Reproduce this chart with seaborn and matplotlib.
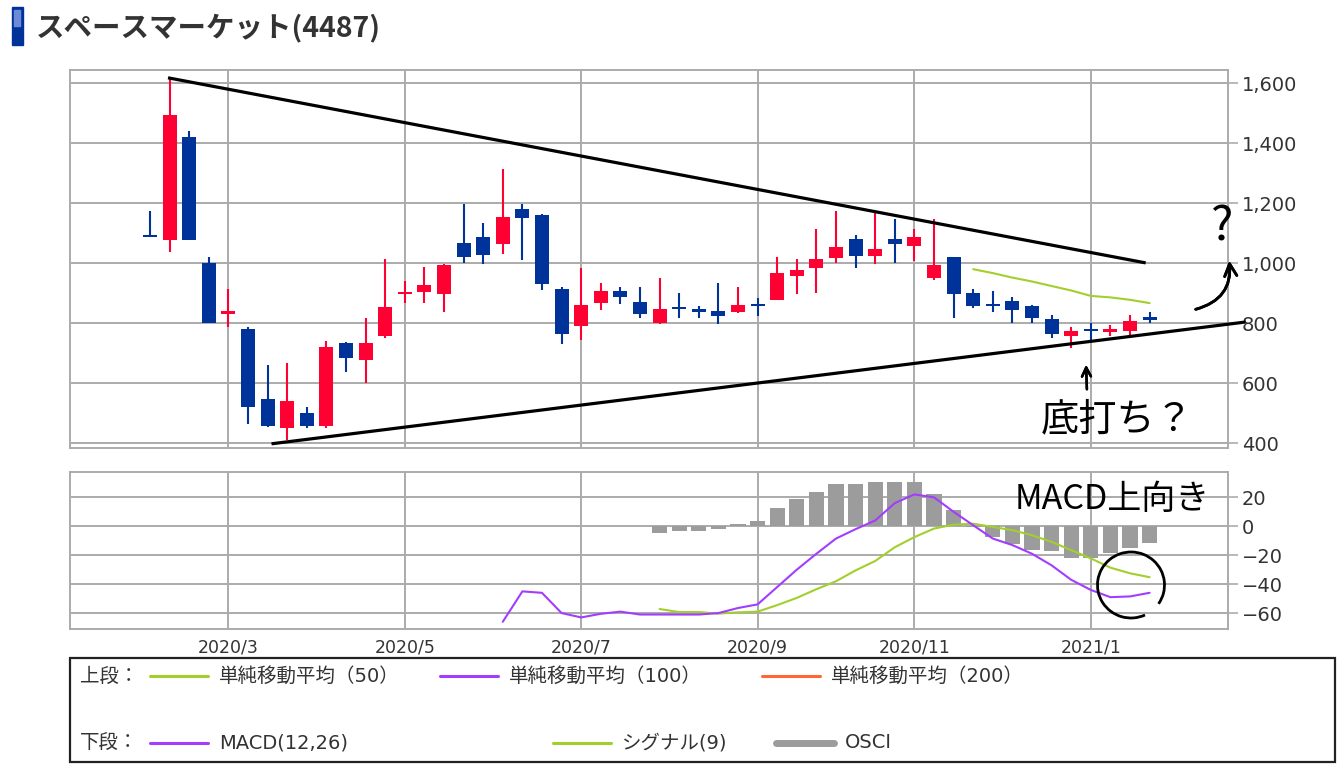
import numpy as np
import pandas as pd
import matplotlib
matplotlib.use("Agg")
import matplotlib.pyplot as plt
import seaborn as sns
from matplotlib.patches import Rectangle, Arc
from matplotlib.lines import Line2D
from matplotlib.ticker import FuncFormatter

# ---- weekly price data (スペースマーケット 4487) ----
week_start = "2020-02-03"
opens = [1092, 1078, 1420, 1000, 832, 781, 547, 450, 502, 456,
         733, 676, 756, 897, 903, 897, 1067, 1087, 1063, 1180,
         1161, 914, 791, 869, 908, 872, 800, 854, 849, 841,
         836, 862, 878, 958, 983, 1017, 1080, 1024, 1080, 1058,
         950, 1020, 900, 862, 874, 859, 813, 758, 782, 770,
         775, 820]
highs = [1175, 1620, 1442, 1022, 913, 786, 661, 667, 522, 741,
         739, 817, 1014, 941, 987, 998, 1197, 1133, 1313, 1197,
         1163, 922, 983, 933, 922, 922, 950, 902, 856, 933,
         922, 883, 1020, 1013, 1113, 1174, 1094, 1167, 1147, 1113,
         1147, 1022, 913, 906, 887, 861, 828, 789, 800, 794,
         828, 839]
lows = [1086, 1036, 1076, 800, 789, 464, 454, 411, 450, 450,
        636, 602, 750, 867, 868, 836, 1002, 997, 1030, 1011,
        911, 730, 744, 844, 863, 817, 798, 817, 817, 797,
        834, 824, 876, 897, 902, 1002, 983, 997, 1002, 1006,
        944, 817, 850, 837, 802, 802, 750, 717, 744, 758,
        761, 802]
closes = [1088, 1494, 1078, 802, 840, 522, 456, 541, 456, 722,
          683, 733, 853, 903, 926, 994, 1022, 1029, 1153, 1150,
          930, 763, 861, 908, 886, 830, 847, 846, 838, 824,
          861, 856, 967, 976, 1013, 1053, 1024, 1047, 1065, 1087,
          994, 897, 856, 856, 844, 817, 763, 775, 775, 781,
          806, 810]

# simple moving average (50) — visible part only
sma50_start = 42
sma50 = [980, 967, 952, 939, 924, 909, 891, 886, 878, 867]

# MACD(12,26), signal(9) and oscillator
macd_start = 18
macd = [-66, -45, -46, -60, -63, -60.5, -59, -61, -61, -61,
        -61, -60, -56.5, -54, -42, -30, -19, -8.5, -2, 4,
        16, 22, 20, 10, 0.7, -8.5, -13, -19, -27, -37,
        -44, -49, -48.5, -46]
signal_start = 26
signal = [-57.2, -59.3, -59.3, -60.4, -59.5, -59, -54.5, -49.5, -43.5, -38,
          -30.5, -24, -14.5, -7.5, -1.6, 1.1, 1.8, -0.5, -2.7, -6.2,
          -10.8, -16.5, -22.2, -28.6, -32.5, -35.2]
osci_start = 26
osci = [-4.6, -3.2, -3.2, -1.8, 1.8, 3.4, 12.8, 19, 24, 29.3,
        29.3, 30.9, 30.9, 30.9, 22.4, 11.4, -0.8, -7.3, -12.4, -16.5,
        -17.2, -22.2, -22.2, -18.8, -15.3, -11.4]

price_ticks = [400, 600, 800, 1000, 1200, 1400, 1600]
macd_ticks = [-60, -40, -20, 0, 20]

# hand-drawn trend lines (index, price)
upper_trend = ([0.92, 50.8], [1618, 1001])
lower_trend = ([6.2, 55.9], [398, 804])

# ---- styling ----
sns.set_theme(style="white")
plt.rcParams["font.family"] = ["DejaVu Sans", "Noto Sans CJK JP"]
JP = ["Noto Sans CJK JP", "DejaVu Sans"]
LEG = ["DejaVu Sans", "Noto Sans CJK JP"]

UP = "#ff0033"
DOWN = "#003399"
GREEN = "#a3cf2c"
PURPLE = "#a23dff"
ORANGE = "#ff6633"
GRAY_BAR = "#9c9c9c"
GRID = "#ababab"
TXT = "#333333"

W, H = 1340, 768
fig = plt.figure(figsize=(W / 100, H / 100), dpi=100)
fig.patch.set_facecolor("white")


def fr(x, y):
    return (x / W, 1 - y / H)


ax1 = fig.add_axes([70 / W, 1 - 448 / H, (1228 - 70) / W, (448 - 70) / H])
ax2 = fig.add_axes([70 / W, 1 - 629 / H, (1228 - 70) / W, (629 - 472) / H])

n = len(opens)
idx = np.arange(n)
dates = pd.date_range(week_start, periods=n, freq="W-MON")
tick_pos, tick_lab = [], []
for i in range(1, n):
    if dates[i].month != dates[i - 1].month and dates[i].month % 2 == 1:
        tick_pos.append(i)
        tick_lab.append(f"{dates[i].year}/{dates[i].month}")

for ax in (ax1, ax2):
    ax.set_xlim(-4.08, 55.0)
    ax.set_xticks(tick_pos)
    ax.grid(True, color=GRID, lw=1.4)
    ax.set_axisbelow(True)
    for s in ax.spines.values():
        s.set_color(GRID)
        s.set_linewidth(1.4)
    ax.yaxis.tick_right()
    ax.tick_params(axis="y", which="both", right=True, length=7, width=1.2,
                   color=GRID, labelcolor=TXT, labelsize=14, pad=3)
    ax.tick_params(axis="x", length=0, labelcolor=TXT, labelsize=12.5, pad=7)

# ---- candlesticks ----
for i in range(n):
    o, h, l, c = opens[i], highs[i], lows[i], closes[i]
    col = UP if c >= o else DOWN
    ax1.vlines(i, l, h, color=col, lw=1.5, zorder=3)
    body = max(abs(c - o), 7)
    ax1.bar(i, body, bottom=min(o, c), width=0.72, color=col, zorder=4,
            linewidth=0)

sns.lineplot(x=np.arange(sma50_start, sma50_start + len(sma50)), y=sma50,
             ax=ax1, color=GREEN, lw=1.5, zorder=5)

ax1.plot(*upper_trend, color="black", lw=2.3, clip_on=False, zorder=6,
         solid_capstyle="butt")
ax1.plot(*lower_trend, color="black", lw=2.3, clip_on=False, zorder=6,
         solid_capstyle="butt")

ax1.set_ylim(384, 1644)
ax1.set_yticks(price_ticks)
ax1.yaxis.set_major_formatter(FuncFormatter(lambda v, p: f"{int(v):,}"))
ax1.set_xticklabels([])
ax1.set_xlabel("")
ax1.set_ylabel("")

# ---- MACD panel ----
ax2.bar(np.arange(osci_start, osci_start + len(osci)), osci, width=0.78,
        color=GRAY_BAR, linewidth=0, zorder=2)
sns.lineplot(x=np.arange(macd_start, macd_start + len(macd)), y=macd,
             ax=ax2, color=PURPLE, lw=1.5, zorder=4)
sns.lineplot(x=np.arange(signal_start, signal_start + len(signal)), y=signal,
             ax=ax2, color=GREEN, lw=1.5, zorder=3)
ax2.set_ylim(-71, 37.5)
ax2.set_yticks(macd_ticks)
ax2.set_xticklabels(tick_lab)
ax2.set_xlabel("")
ax2.set_ylabel("")

# ---- title ----
fig.add_artist(Rectangle(fr(12, 45), 11 / W, 38 / H, color="#003399",
                         transform=fig.transFigure))
fig.add_artist(Rectangle(fr(14, 26), 6 / W, 16 / H, color="#6c8ad6",
                         transform=fig.transFigure))
fig.text(*fr(36, 28), "スペースマーケット(4487)", fontsize=20.5,
         fontweight="bold", color=TXT, va="center", ha="left", family=JP)

# ---- legend box ----
fig.add_artist(Rectangle(fr(70, 762), 1265 / W, 104 / H, fill=False,
                         edgecolor="#222222", lw=1.6,
                         transform=fig.transFigure))


def legend_item(x0, x1, y, color, lw, label):
    fig.add_artist(Line2D([x0 / W, x1 / W], [1 - y / H, 1 - y / H],
                          color=color, lw=lw, transform=fig.transFigure))
    fig.text((x1 + 11) / W, 1 - y / H, label, fontsize=14, color=TXT,
             va="center", ha="left", family=LEG)


fig.text(*fr(80, 676), "上段：", fontsize=14, color=TXT, va="center",
         family=LEG)
legend_item(150, 208, 676, GREEN, 2.2, "単純移動平均（50）")
legend_item(440, 498, 676, PURPLE, 2.2, "単純移動平均（100）")
legend_item(762, 820, 676, ORANGE, 2.2, "単純移動平均（200）")
fig.text(*fr(80, 743), "下段：", fontsize=14, color=TXT, va="center",
         family=LEG)
legend_item(150, 208, 743, PURPLE, 2.2, "MACD(12,26)")
legend_item(553, 611, 743, GREEN, 2.2, "シグナル(9)")
legend_item(776, 834, 743, GRAY_BAR, 5, "OSCI")

# ---- handwritten notes ----
fig.text(*fr(1222, 227), "?", fontsize=34, color="black", ha="center",
         va="center", family=JP)
fig.add_artist(plt.annotate(
    "", xy=fr(1229, 258), xytext=fr(1193, 310), xycoords="figure fraction",
    textcoords="figure fraction",
    arrowprops=dict(arrowstyle="->", lw=2, color="black", mutation_scale=22,
                    connectionstyle="arc3,rad=0.45")))
fig.add_artist(plt.annotate(
    "", xy=fr(1086, 362), xytext=fr(1087, 392), xycoords="figure fraction",
    textcoords="figure fraction",
    arrowprops=dict(arrowstyle="->", lw=1.8, color="black",
                    mutation_scale=16)))
fig.text(*fr(1117, 420), "底打ち？", fontsize=27.5, color="black", ha="center",
         va="center", family=JP)
fig.text(*fr(1112, 499), "MACD上向き", fontsize=24.5, color="black",
         ha="center", va="center", family=JP)
fig.add_artist(Arc(fr(1131, 585), 67 / W, 66 / H, theta1=-50, theta2=285,
                   color="black", lw=2, transform=fig.transFigure))

fig.savefig("out.png", dpi=100, facecolor="white")
